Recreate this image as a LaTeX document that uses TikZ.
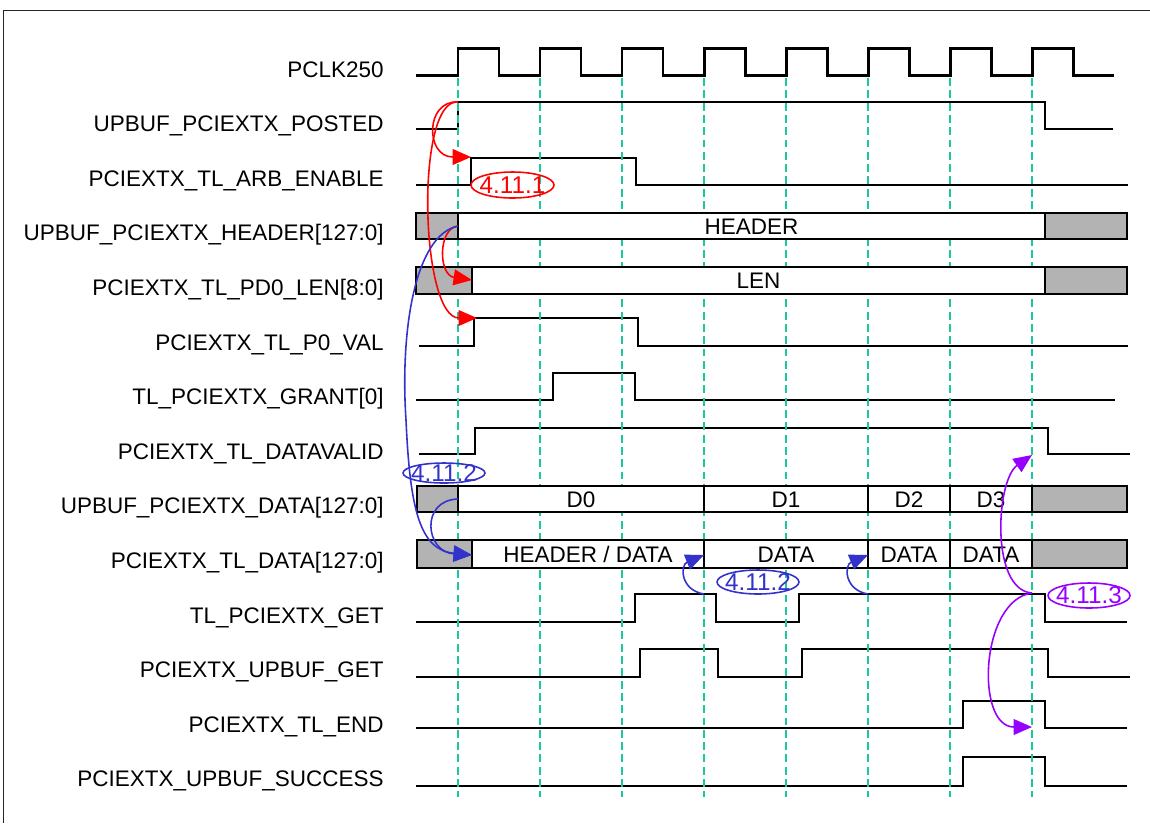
\documentclass[tikz,border=0pt]{standalone}
\usepackage{fontspec}
\setmainfont{Liberation Sans}
\usetikzlibrary{arrows.meta}
\definecolor{gridgreen}{RGB}{25,200,155}
\definecolor{annblue}{RGB}{51,51,204}
\definecolor{annpurple}{RGB}{150,0,255}
\definecolor{busgray}{RGB}{179,179,179}

\begin{document}
\begin{tikzpicture}[x=0.02cm, y=-0.02cm, line join=miter, >={Triangle[length=10.5pt,width=9pt]},
    sig/.style={line width=1.1pt},
    clk/.style={line width=1.7pt},
    bus/.style={line width=1.1pt, fill=white},
    busx/.style={line width=1.1pt, fill=busgray},
    vdash/.style={gridgreen, line width=1.1pt, dash pattern=on 4.5pt off 2.5pt},
    lbl/.style={anchor=base east, inner sep=0, font=\fontsize{12.8}{15}\selectfont},
    btxt/.style={anchor=base, inner sep=0, font=\fontsize{12.8}{15}\selectfont},
    ann/.style={line width=0.9pt, ->},
    tag/.style={inner sep=0, font=\fontsize{13.8}{16}\selectfont}]
    \def\per{82} \def\tz{458} % clock period, first edge
    \useasboundingbox (0,0) rectangle (1150,823);
    \draw[line width=1.1pt, black!85] (3.5,823) -- (3.5,10.5) -- (1150,10.5);
    % signal names
    \foreach \t [count=\k from 0] in {PCLK250, UPBUF\_PCIEXTX\_POSTED, PCIEXTX\_TL\_ARB\_ENABLE,
        UPBUF\_PCIEXTX\_HEADER[127:0], PCIEXTX\_TL\_PD0\_LEN[8:0], PCIEXTX\_TL\_P0\_VAL,
        TL\_PCIEXTX\_GRANT[0], PCIEXTX\_TL\_DATAVALID, UPBUF\_PCIEXTX\_DATA[127:0],
        PCIEXTX\_TL\_DATA[127:0], TL\_PCIEXTX\_GET, PCIEXTX\_UPBUF\_GET, PCIEXTX\_TL\_END,
        PCIEXTX\_UPBUF\_SUCCESS}
        \node[lbl] (lab\k) at (384,{77+54.6*\k}) {\t};
    % clock
    \draw[clk] (416,75) \foreach \i in {0,...,7} { -- ({\tz+\per*\i},75) -- ({\tz+\per*\i},48)
        -- ({\tz+41+\per*\i},48) -- ({\tz+41+\per*\i},75) } -- (1114,75);
    % single-bit signals
    \draw[sig] (416,129) -- (458,129) -- (458,102) -- (1045,102) -- (1045,129) -- (1113,129);
    \draw[sig] (416,185) -- (471,185) -- (471,158) -- (636,158) -- (636,185) -- (1128,185);
    \draw[sig] (419,346) -- (474,346) -- (474,318) -- (638,318) -- (638,346) -- (1128,346);
    \draw[sig] (416,400) -- (553,400) -- (553,373) -- (635,373) -- (635,400) -- (1115,400);
    \draw[sig] (419,454) -- (475,454) -- (475,428) -- (1048,428) -- (1048,454) -- (1130,454);
    \draw[sig] (416,622) -- (635,622) -- (635,594) -- (716,594) -- (716,622) -- (799,622)
        -- (799,594) -- (1045,594) -- (1045,622) -- (1127,622);
    \draw[sig] (416,677) -- (640,677) -- (640,649) -- (718,649) -- (718,677) -- (802,677)
        -- (802,649) -- (1048,649) -- (1048,677) -- (1130,677);
    \draw[sig] (416,728) -- (963,728) -- (963,701) -- (1045,701) -- (1045,728) -- (1127,728);
    \draw[sig] (416,786) -- (963,786) -- (963,757) -- (1045,757) -- (1045,786) -- (1127,786);
    % clock edge markers
    \foreach \i in {0,...,7}
        \draw[vdash] ({\tz+\per*\i},78) -- ({\tz+\per*\i},797);
    % buses
    \draw[busx] (416,213) rectangle (458,239);
    \draw[bus] (458,213) rectangle (1045,239);
    \draw[busx] (1045,213) rectangle (1127,239);
    \node[btxt] (hdr) at (751.5,234) {HEADER};
    \draw[busx] (416,267) rectangle (472,294);
    \draw[bus] (472,267) rectangle (1045,294);
    \draw[busx] (1045,267) rectangle (1127,294);
    \node[btxt] (len) at (758.5,288) {LEN};
    \draw[busx] (417,486) rectangle (458,512);
    \draw[bus] (458,486) rectangle (704,512);
    \draw[bus] (704,486) rectangle (868,512);
    \draw[bus] (868,486) rectangle (950,512);
    \draw[bus] (950,486) rectangle (1032,512);
    \draw[busx] (1032,486) rectangle (1127,512);
    \node[btxt] (dz) at (581,507) {D0};
    \node[btxt] (da) at (786,507) {D1};
    \node[btxt] (db) at (909,507) {D2};
    \node[btxt] (dc) at (991,507) {D3};
    \draw[busx] (417,540) rectangle (472,568);
    \draw[bus] (472,540) rectangle (704,568);
    \draw[bus] (704,540) rectangle (868,568);
    \draw[bus] (868,540) rectangle (950,568);
    \draw[bus] (950,540) rectangle (1032,568);
    \draw[busx] (1032,540) rectangle (1127,568);
    \node[btxt] (hd) at (588,562) {HEADER / DATA};
    \node[btxt] (ta) at (786,562) {DATA};
    \node[btxt] (tb) at (909,562) {DATA};
    \node[btxt] (tc) at (991,562) {DATA};
    % annotation points
    \coordinate (pUp) at (458,102);
    \coordinate (aUp) at (471,157);
    \coordinate (vUp) at (477,318);
    \coordinate (hEnd) at (458,226);
    \coordinate (lUp) at (472,280);
    \coordinate (dzs) at (458,499);
    \coordinate (tdA) at (472,555);
    \coordinate (getA) at (704,594);
    \coordinate (tdB) at (704,555);
    \coordinate (getB) at (868,594);
    \coordinate (tdC) at (868,555);
    \coordinate (getC) at (1032,593);
    \coordinate (dvDn) at (1032,455);
    \coordinate (endUp) at (1032,727);
    % 4.11.1
    \draw[ann,red] (pUp) .. controls (425,100) and (425,157) .. (aUp);
    \draw[ann,red] (pUp) .. controls (415,98) and (420,318) .. (vUp);
    \draw[ann,red] (hEnd) .. controls (438,228) and (438,275) .. (lUp);
    \node[tag,red] (t1) at (512.5,185) {4.11.1};
    \draw[red,line width=0.9pt] (t1.center) ellipse [x radius=0.83cm, y radius=0.26cm];
    % 4.11.2
    \draw[ann,annblue] (hEnd) .. controls (415,235) and (400,330) .. (406,420)
        .. controls (410,510) and (420,550) .. (tdA);
    \draw[ann,annblue] (dzs) .. controls (420,500) and (425,552) .. (tdA);
    \node[tag,annblue] (t2) at (444,473) {4.11.2};
    \draw[annblue,line width=0.9pt] (t2.center) ellipse [x radius=0.82cm, y radius=0.2cm];
    \draw[ann,annblue] (getA) .. controls (680,590) and (680,565) .. (tdB);
    \draw[ann,annblue] (getB) .. controls (844,590) and (844,565) .. (tdC);
    \node[tag,annblue] (t3) at (758,582) {4.11.2};
    \draw[annblue,line width=0.9pt] (t3.center) ellipse [x radius=0.82cm, y radius=0.24cm];
    % 4.11.3
    \draw[ann,annpurple] (getC) .. controls (990,590) and (996,480) .. (dvDn);
    \draw[ann,annpurple] (getC) .. controls (980,600) and (975,727) .. (endUp);
    \node[tag,annpurple] (t4) at (1089,595.5) {4.11.3};
    \draw[annpurple,line width=0.9pt] (t4.center) ellipse [x radius=0.82cm, y radius=0.25cm];
\end{tikzpicture}
\end{document}
